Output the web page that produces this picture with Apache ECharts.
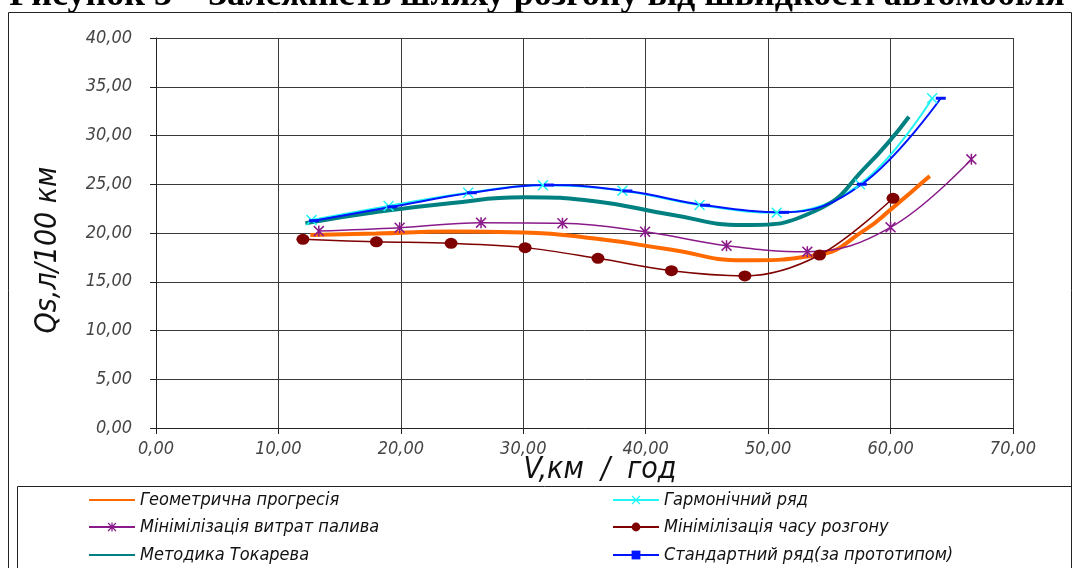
<!DOCTYPE html>
<html><head><meta charset="utf-8">
<script src="https://cdn.jsdelivr.net/npm/echarts@6/dist/echarts.min.js"></script>
<style>html,body{margin:0;padding:0;background:#fff}#c{width:1073px;height:568px}</style>
</head><body><div id="c"></div>
<script>
// ---- data ----
const titleText = 'Рисунок 3 – Залежність шляху розгону від швидкості автомобіля';
const xName = 'V,км  /  год';
const yName = 'Qs,л/100 км';
const seriesNames = ['Геометрична прогресія','Гармонічний ряд','Мінімілізація витрат палива','Мінімілізація часу розгону','Методика Токарева','Стандартний ряд(за прототипом)'];

const geomX = [12.6, 18, 24, 30, 36, 42, 48, 54, 58, 60, 63.2];
const geomY = [19.8, 19.95, 20.15, 20.05, 19.4, 18.3, 17.2, 17.75, 20.4, 22.4, 25.85];

const harmX = [12.7, 19.0, 25.5, 31.6, 38.1, 44.4, 50.7, 57.5, 63.4];
const harmY = [21.33, 22.77, 24.13, 24.89, 24.34, 22.87, 22.08, 25.0, 33.82];

const fuelX = [13.3, 19.9, 26.55, 33.2, 39.95, 46.6, 53.2, 60.0, 66.6];
const fuelY = [20.2, 20.54, 21.06, 21.0, 20.13, 18.7, 18.08, 20.58, 27.56];

const timeX = [12.0, 18.0, 24.1, 30.15, 36.1, 42.1, 48.1, 54.2, 60.2];
const timeY = [19.35, 19.1, 18.94, 18.5, 17.4, 16.13, 15.6, 17.74, 23.56];

const tokX = [12.2, 18, 24, 30, 36, 42, 48, 54, 58, 61.5];
const tokY = [21.0, 22.15, 23.05, 23.66, 23.23, 21.9, 20.82, 22.36, 26.8, 31.93];

const stdX = [12.9, 19.3, 25.8, 32.1, 38.5, 44.85, 51.3, 57.65, 64.1];
const stdY = [21.26, 22.69, 24.13, 24.92, 24.31, 22.85, 22.12, 25.0, 33.82];

const xMin = 0, xMax = 70, xStep = 10;
const yMin = 0, yMax = 40, yStep = 5;

// ---- chart ----
const pair = (xs, ys) => xs.map((x, i) => [x, ys[i]]);
const fmt = v => v.toFixed(2).replace('.', ',');
const FONT = '"DejaVu Sans Condensed", "DejaVu Sans", sans-serif';
const XPATH = 'path://M0,1L1,0L5,4L9,0L10,1L6,5L10,9L9,10L5,6L1,10L0,9L4,5Z';
const STAR = 'path://M0,1L1,0L5,4L9,0L10,1L6,5L10,9L9,10L5,6L1,10L0,9L4,5Z M4.3,0L5.7,0L5.7,10L4.3,10Z';
const DASH = 'path://M0,0L10,0L10,3L0,3Z';

const chart = echarts.init(document.getElementById('c'), null, {renderer: 'canvas'});

function line(name, data, color, width, symbol, size, smooth) {
  return {
    name, type: 'line', data, smooth: smooth,
    symbol: symbol || 'none', symbolSize: size || 0, showSymbol: !!symbol,
    lineStyle: {color, width},
    itemStyle: {color},
    emphasis: {disabled: true},
    z: 3
  };
}

const legendText = {fontFamily: FONT, fontStyle: 'italic', fontSize: 18, color: '#111'};
function leg(item, left, top) {
  return {data: [item], left, top, itemWidth: 46, itemHeight: 11, itemGap: 0,
    textStyle: legendText, selectedMode: false, padding: 0};
}

chart.setOption({
  animation: false,
  backgroundColor: '#fff',
  grid: {left: 156, right: 60, top: 38, bottom: 140},
  xAxis: {
    type: 'value', min: xMin, max: xMax, interval: xStep,
    axisLine: {show: true, lineStyle: {color: '#222', width: 1}},
    axisTick: {show: true, length: 6, lineStyle: {color: '#222'}},
    axisLabel: {formatter: fmt, fontFamily: FONT, fontStyle: 'italic', fontSize: 18, color: '#444', margin: 12},
    splitLine: {show: true, lineStyle: {color: '#3a3a3a', width: 1}}
  },
  yAxis: {
    type: 'value', min: yMin, max: yMax, interval: yStep,
    axisLine: {show: true, lineStyle: {color: '#222', width: 1}},
    axisTick: {show: true, length: 6, lineStyle: {color: '#222'}},
    axisLabel: {formatter: fmt, fontFamily: FONT, fontStyle: 'italic', fontSize: 18, color: '#444', margin: 24},
    splitLine: {show: true, lineStyle: {color: '#3a3a3a', width: 1}}
  },
  legend: [
    leg({name: seriesNames[0], itemStyle: {opacity: 0}}, 88, 491),
    leg({name: seriesNames[2]}, 88, 518),
    leg({name: seriesNames[4], itemStyle: {opacity: 0}}, 88, 546),
    leg({name: seriesNames[1]}, 612, 491),
    leg({name: seriesNames[3]}, 612, 518),
    leg({name: seriesNames[5]}, 612, 546)
  ],
  graphic: [
    {type: 'text', x: 537, y: 14, style: {text: titleText, font: 'bold 36px "Liberation Serif", serif', fill: '#000', align: 'center', verticalAlign: 'bottom'}, silent: true},
    {type: 'rect', left: 6, top: 10, shape: {width: 1063, height: 565}, style: {fill: 'none', stroke: '#222', lineWidth: 1}, silent: true},
    {type: 'rect', left: 15, top: 484, shape: {width: 1054, height: 100}, style: {fill: 'none', stroke: '#222', lineWidth: 1}, silent: true},
    {type: 'text', x: 600, y: 470, style: {text: xName, font: 'italic 30px "DejaVu Sans Condensed", sans-serif', fill: '#111', align: 'center', verticalAlign: 'middle'}, silent: true},
    {type: 'text', x: 48, y: 250, rotation: Math.PI / 2, style: {text: yName, font: 'italic 30px "DejaVu Sans Condensed", sans-serif', fill: '#111', align: 'center', verticalAlign: 'middle'}, silent: true}
  ],
  series: [
    line(seriesNames[0], pair(geomX, geomY), '#FF6A00', 4, null, 0, 0.5),
    line(seriesNames[1], pair(harmX, harmY), '#22F4F4', 2, XPATH, 11, 0.4),
    line(seriesNames[2], pair(fuelX, fuelY), '#8A1A8A', 1.5, STAR, 11, 0.4),
    line(seriesNames[3], pair(timeX, timeY), '#7F0000', 1.5, 'circle', [13, 11], 0.35),
    line(seriesNames[4], pair(tokX, tokY), '#008080', 4, null, 0, 0.5),
    line(seriesNames[5], pair(stdX, stdY), '#0015FF', 2, DASH, [10, 3], 0.4)
  ]
});
</script></body></html>
